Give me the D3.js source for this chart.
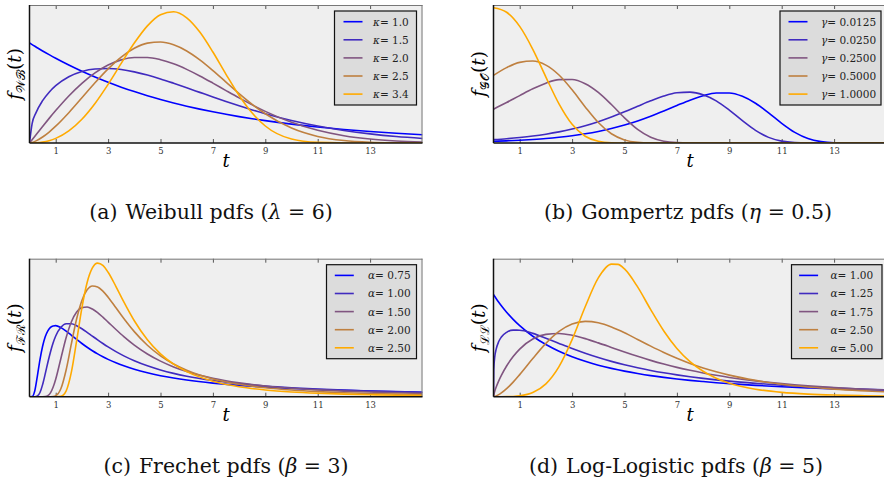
<!DOCTYPE html>
<html>
<head>
<meta charset="utf-8">
<script src="https://cdnjs.cloudflare.com/ajax/libs/d3/7.8.5/d3.min.js"></script>
<style>
  body { margin: 0; background: #fff; }
</style>
</head>
<body>
<svg id="chart" width="884" height="479"></svg>
<script>
// ---- data ----

// (a) Weibull, lambda = 6
const tWeibull = [0,0.1,0.25,0.5,0.75,1,1.5,2,2.5,3,3.5,4,4.5,5,5.5,6,6.5,7,7.5,8,8.5,9,10,11,12,13,14,15];
const weibullLabels = ["1.0","1.5","2.0","2.5","3.4"];
const wbK10 = [0.1667,0.1639,0.1599,0.1533,0.1471,0.1411,0.1298,0.1194,0.1099,0.1011,0.0930,0.0856,0.0787,0.0724,0.0666,0.0613,0.0564,0.0519,0.0478,0.0439,0.0404,0.0372,0.0315,0.0266,0.0226,0.0191,0.0162,0.0137];
const wbK15 = [0,0.0322,0.0506,0.0705,0.0846,0.0954,0.1103,0.1191,0.1233,0.1241,0.1223,0.1184,0.1131,0.1067,0.0995,0.0920,0.0843,0.0766,0.0691,0.0619,0.0551,0.0488,0.0375,0.0283,0.0209,0.0152,0.0108,0.0076];
const wbK20 = [0,0.0056,0.0139,0.0276,0.0410,0.0540,0.0783,0.0994,0.1168,0.1298,0.1384,0.1425,0.1425,0.1387,0.1319,0.1226,0.1117,0.0997,0.0873,0.0751,0.0635,0.0527,0.0345,0.0212,0.0122,0.0066,0.0034,0.0016];
const wbK25 = [0,0.0009,0.0035,0.0100,0.0183,0.0280,0.0505,0.0752,0.1002,0.1234,0.1432,0.1578,0.1663,0.1682,0.1636,0.1533,0.1385,0.1207,0.1015,0.0824,0.0645,0.0487,0.0248,0.0109,0.0041,0.0013,0.0004,0.0001];
const wbK34 = [0,0,0.0003,0.0015,0.0039,0.0077,0.0202,0.0396,0.0659,0.0977,0.1325,0.1664,0.1951,0.2136,0.2186,0.2085,0.1848,0.1515,0.1144,0.0791,0.0498,0.0283,0.0066,0.0010,0.0001,0,0,0];

// (b) Gompertz, eta = 0.5
const tGompertz = [0,0.5,1,1.5,2,2.5,3,3.5,4,4.5,5,5.5,6,6.5,7,7.5,8,8.5,9,9.5,10,10.5,11,11.5,12,12.5,13,14,15];
const gompertzLabels = ["0.0125","0.0250","0.2500","0.5000","1.0000"];
const gmG0125 = [0.0063,0.0080,0.0102,0.0131,0.0166,0.0212,0.0268,0.0339,0.0426,0.0533,0.0662,0.0814,0.0989,0.1182,0.1385,0.1582,0.1746,0.1847,0.1849,0.1725,0.1469,0.1114,0.0727,0.0392,0.0165,0.0051,0.0010,0,0];
const gmG0250 = [0.0125,0.0159,0.0203,0.0257,0.0326,0.0410,0.0514,0.0639,0.0787,0.0959,0.1151,0.1356,0.1558,0.1735,0.1855,0.1882,0.1787,0.1558,0.1215,0.0824,0.0466,0.0208,0.0069,0.0016,0.0002,0,0,0,0];
const gmG2500 = [0.1250,0.1495,0.1752,0.2002,0.2211,0.2341,0.2346,0.2191,0.1870,0.1421,0.0930,0.0503,0.0213,0.0066,0.0014,0.0002,0,0,0,0,0,0,0,0,0,0,0,0,0];
const gmG5000 = [0.2500,0.2785,0.2980,0.3028,0.2878,0.2512,0.1965,0.1335,0.0757,0.0341,0.0114,0.0026,0.0004,0,0,0,0,0,0,0,0,0,0,0,0,0,0,0,0];
const gmG10000 = [0.5000,0.4833,0.4309,0.3464,0.2438,0.1446,0.0689,0.0248,0.0062,0.0010,0.0001,0,0,0,0,0,0,0,0,0,0,0,0,0,0,0,0,0,0];

// (c) Frechet, beta = 3
const tFrechet = [0,0.1,0.2,0.3,0.4,0.5,0.6,0.7,0.8,0.9,1,1.2,1.4,1.6,1.8,2,2.2,2.4,2.6,2.8,3,3.3,3.6,4,4.5,5,5.5,6,7,8,9,10,11,12,13,14,15];
const frechetLabels = ["0.75","1.00","1.50","2.00","2.50"];
const frA075 = [0,0.0003,0.0140,0.0508,0.0914,0.1244,0.1476,0.1623,0.1707,0.1744,0.1750,0.1701,0.1615,0.1513,0.1410,0.1311,0.1218,0.1133,0.1055,0.0984,0.0920,0.0834,0.0760,0.0675,0.0588,0.0517,0.0459,0.0410,0.0334,0.0278,0.0236,0.0203,0.0176,0.0155,0.0138,0.0123,0.0111];
const frA100 = [0,0,0,0.0015,0.0104,0.0297,0.0561,0.0843,0.1102,0.1321,0.1494,0.1710,0.1796,0.1797,0.1749,0.1674,0.1585,0.1492,0.1400,0.1311,0.1226,0.1110,0.1006,0.0886,0.0761,0.0659,0.0575,0.0505,0.0399,0.0322,0.0265,0.0222,0.0189,0.0162,0.0141,0.0124,0.0109];
const frA150 = [0,0,0,0,0,0,0.0004,0.0027,0.0096,0.0231,0.0432,0.0949,0.1459,0.1847,0.2085,0.2195,0.2209,0.2159,0.2071,0.1960,0.1839,0.1656,0.1481,0.1272,0.1053,0.0876,0.0734,0.0621,0.0454,0.0342,0.0265,0.0209,0.0169,0.0138,0.0115,0.0096,0.0082];
const frA200 = [0,0,0,0,0,0,0,0,0,0.0004,0.0022,0.0201,0.0665,0.1307,0.1919,0.2372,0.2633,0.2729,0.2705,0.2602,0.2453,0.2192,0.1927,0.1603,0.1267,0.1005,0.0804,0.0649,0.0437,0.0306,0.0221,0.0165,0.0126,0.0098,0.0078,0.0063,0.0051];
const frA250 = [0,0,0,0,0,0,0,0,0,0,0,0.0011,0.0145,0.0611,0.1380,0.2190,0.2813,0.3172,0.3290,0.3233,0.3066,0.2715,0.2336,0.1871,0.1402,0.1055,0.0802,0.0617,0.0381,0.0247,0.0167,0.0117,0.0085,0.0063,0.0048,0.0037,0.0029];

// (d) Log-Logistic, beta = 5
const tLogLogistic = [0,0.01,0.05,0.1,0.2,0.3,0.5,0.75,1,1.5,2,2.5,3,3.5,4,4.5,4.75,5,5.5,6,6.5,7,7.5,8,8.5,9,10,11,12,13,14,15];
const logLogisticLabels = ["1.00","1.25","1.75","2.50","5.00"];
const llA100 = [0.2000,0.1992,0.1961,0.1922,0.1849,0.1780,0.1653,0.1512,0.1389,0.1183,0.1020,0.0889,0.0781,0.0692,0.0617,0.0554,0.0526,0.0500,0.0454,0.0413,0.0378,0.0347,0.0320,0.0296,0.0274,0.0255,0.0222,0.0195,0.0173,0.0154,0.0139,0.0125];
const llA125 = [0,0.0528,0.0786,0.0926,0.1079,0.1167,0.1260,0.1302,0.1301,0.1239,0.1144,0.1042,0.0942,0.0850,0.0766,0.0691,0.0657,0.0625,0.0566,0.0514,0.0468,0.0427,0.0391,0.0359,0.0330,0.0304,0.0261,0.0225,0.0196,0.0172,0.0151,0.0134];
const llA175 = [0,0.0033,0.0111,0.0186,0.0311,0.0418,0.0601,0.0786,0.0932,0.1128,0.1220,0.1237,0.1202,0.1136,0.1053,0.0964,0.0919,0.0875,0.0790,0.0711,0.0639,0.0574,0.0516,0.0464,0.0418,0.0377,0.0309,0.0256,0.0213,0.0179,0.0152,0.0130];
const llA250 = [0,0,0.0005,0.0014,0.0040,0.0073,0.0157,0.0285,0.0432,0.0746,0.1043,0.1277,0.1421,0.1473,0.1447,0.1365,0.1310,0.1250,0.1120,0.0989,0.0865,0.0752,0.0651,0.0563,0.0488,0.0422,0.0319,0.0244,0.0189,0.0148,0.0118,0.0094];
const llA500 = [0,0,0,0,0,0,0.0001,0.0005,0.0016,0.0081,0.0251,0.0588,0.1116,0.1760,0.2324,0.2594,0.2589,0.2500,0.2148,0.1704,0.1286,0.0944,0.0686,0.0497,0.0362,0.0265,0.0147,0.0085,0.0051,0.0032,0.0021,0.0014];

const xTicks = [1,3,5,7,9,11,13];

// ---- layout / style ----
const FONT = "DejaVu Serif";
const colors = d3.range(5).map(i => d3.interpolateRgb("#0000ff", "#ffaa00")(i / 4));
const plotW = 393, plotH = 138;

const panels = [
  { left: 29.5, top: 5, t: tWeibull, series: [wbK10, wbK15, wbK20, wbK25, wbK34],
    labels: weibullLabels, sym: "κ", yMax: 0.2298, sub: "𝒲ℬ",
    legend: { x: 305, y: 6, w: 82, h: 94, lineX: 9, textX: 38.5 },
    caption: ["(a)", "Weibull pdfs (", "λ", " = 6)"], capX: 211 },
  { left: 493.5, top: 5, t: tGompertz, series: [gmG0125, gmG0250, gmG2500, gmG5000, gmG10000],
    labels: gompertzLabels, sym: "γ", yMax: 0.51, sub: "𝒢𝒪",
    legend: { x: 286.5, y: 6, w: 101, h: 94, lineX: 8.5, textX: 41 },
    caption: ["(b)", "Gompertz pdfs (", "η", " = 0.5)"], capX: 688 },
  { left: 29.5, top: 258.7, t: tFrechet, series: [frA075, frA100, frA150, frA200, frA250],
    labels: frechetLabels, sym: "α", yMax: 0.34, sub: "ℱℛ",
    legend: { x: 297, y: 6, w: 90, h: 94, lineX: 8.3, textX: 41.5 },
    caption: ["(c)", "Frechet pdfs (", "β", " = 3)"], capX: 226 },
  { left: 493.5, top: 258.7, t: tLogLogistic, series: [llA100, llA125, llA175, llA250, llA500],
    labels: logLogisticLabels, sym: "α", yMax: 0.27, sub: "ℒℒ",
    legend: { x: 298, y: 6, w: 90.5, h: 94, lineX: 7.6, textX: 39 },
    caption: ["(d)", "Log-Logistic pdfs (", "β", " = 5)"], capX: 676 }
];

const svg = d3.select("#chart").attr("font-family", FONT);

panels.forEach((p, pi) => {
  const g = svg.append("g").attr("transform", `translate(${p.left},${p.top})`);

  const x = d3.scaleLinear().domain([0, 15]).range([0, plotW]);
  const y = d3.scaleLinear().domain([0, p.yMax]).range([plotH, 0]);

  // background
  g.append("rect").attr("width", plotW).attr("height", plotH).attr("fill", "#efefef");

  g.append("clipPath").attr("id", "clip" + pi)
    .append("rect").attr("width", plotW).attr("height", plotH);

  // ticks bottom (inward) with labels, top (inward) no labels
  const xb = g.append("g").attr("transform", `translate(0,${plotH})`)
    .call(d3.axisBottom(x).tickValues(xTicks).tickSizeInner(-4).tickSizeOuter(0).tickPadding(5));
  xb.attr("font-family", FONT).attr("font-size", 8.5);
  xb.select(".domain").remove();
  xb.selectAll("line").attr("stroke", "#555");
  xb.selectAll("text").attr("fill", "#333");

  const xt = g.append("g")
    .call(d3.axisTop(x).tickValues(xTicks).tickSizeInner(-4).tickSizeOuter(0).tickFormat(""));
  xt.select(".domain").remove();
  xt.selectAll("line").attr("stroke", "#555");

  // curves
  const line = d3.line().x((d, i) => x(p.t[i])).y(d => y(d)).curve(d3.curveMonotoneX);
  g.append("g").attr("clip-path", `url(#clip${pi})`)
    .selectAll("path").data(p.series).join("path")
    .attr("d", line)
    .attr("fill", "none")
    .attr("stroke", (d, i) => colors[i])
    .attr("stroke-width", 1.6);

  // frame
  g.append("line").attr("x1", 0).attr("x2", plotW).attr("y1", 0.5).attr("y2", 0.5).attr("stroke", "#777").attr("stroke-width", 1);
  g.append("line").attr("x1", plotW - 0.5).attr("x2", plotW - 0.5).attr("y1", 0).attr("y2", plotH).attr("stroke", "#777").attr("stroke-width", 1);
  g.append("line").attr("x1", 0).attr("x2", 0).attr("y1", 0).attr("y2", plotH).attr("stroke", "#111").attr("stroke-width", 1.5);
  g.append("line").attr("x1", 0).attr("x2", plotW).attr("y1", plotH).attr("y2", plotH).attr("stroke", "#111").attr("stroke-width", 1.5);

  // legend
  const lg = g.append("g").attr("transform", `translate(${p.legend.x},${p.legend.y})`);
  lg.append("rect").attr("width", p.legend.w).attr("height", p.legend.h)
    .attr("fill", "#dcdcdc").attr("stroke", "#111").attr("stroke-width", 1.2);
  p.labels.forEach((lab, i) => {
    const ry = 10.7 + i * 18.1;
    lg.append("line").attr("x1", p.legend.lineX).attr("x2", p.legend.lineX + 19)
      .attr("y1", ry).attr("y2", ry).attr("stroke", colors[i]).attr("stroke-width", 1.6);
    const tx = lg.append("text").attr("x", p.legend.textX).attr("y", ry + 4)
      .attr("font-size", 10.5).attr("fill", "#222");
    tx.append("tspan").attr("font-style", "italic").text(p.sym);
    tx.append("tspan").text("= " + lab);
  });

  // x title
  g.append("text").attr("x", plotW / 2).attr("y", 162)
    .attr("text-anchor", "middle").attr("font-size", 18).attr("font-style", "italic")
    .text("t");

  // y title
  const yl = g.append("text")
    .attr("transform", `translate(-9,${plotH / 2}) rotate(-90)`)
    .attr("text-anchor", "middle").attr("font-size", 18.5);
  yl.append("tspan").attr("font-style", "italic").text("f");
  yl.append("tspan").attr("dy", 4).attr("font-size", 12).text(p.sub);
  yl.append("tspan").attr("dy", -4).text("(");
  yl.append("tspan").attr("font-style", "italic").text("t");
  yl.append("tspan").text(")");

  // caption
  const cap = svg.append("text").attr("x", p.capX).attr("y", p.top + 214)
    .attr("text-anchor", "middle").attr("font-size", 20.5).attr("fill", "#111");
  cap.append("tspan").text(p.caption[0]);
  cap.append("tspan").attr("dx", 8).text(p.caption[1]);
  cap.append("tspan").attr("font-style", "italic").text(p.caption[2]);
  cap.append("tspan").text(p.caption[3]);
});
</script>
</body>
</html>
